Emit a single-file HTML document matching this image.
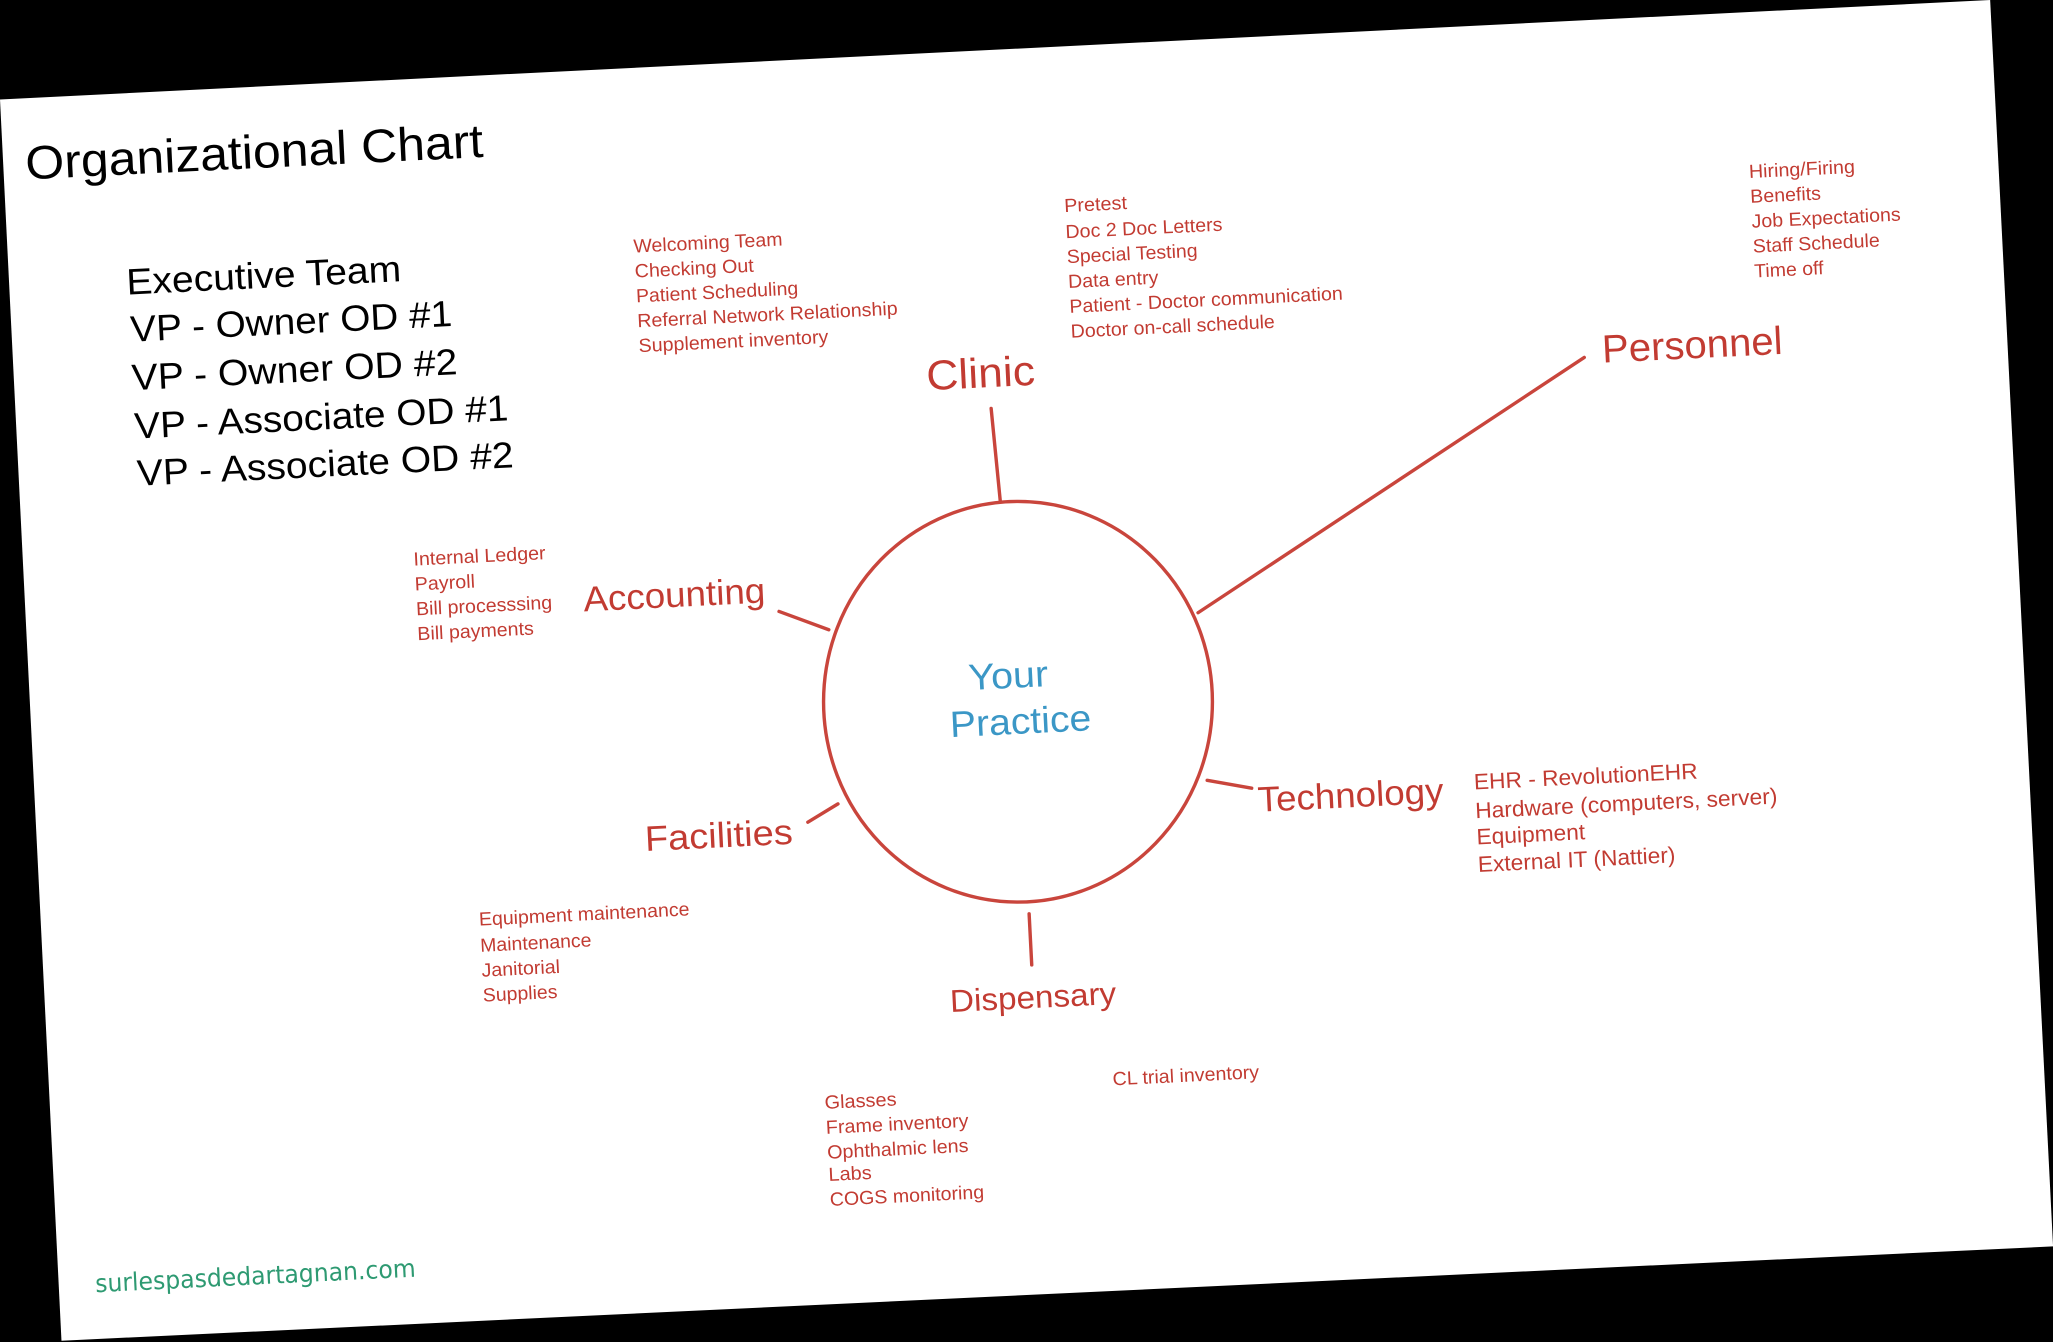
<!DOCTYPE html>
<html><head><meta charset="utf-8"><style>
html,body{margin:0;padding:0;background:#000;width:2053px;height:1342px;overflow:hidden}
svg{display:block}
text{font-family:"Liberation Sans",Arial,sans-serif}
.r{fill:#c23b32}
.k{fill:#000}
</style></head><body>
<svg width="2053" height="1342" viewBox="0 0 1568 1025" preserveAspectRatio="none" xmlns="http://www.w3.org/2000/svg">
<rect x="0" y="0" width="1568" height="1025" fill="#000"/>
<polygon points="0,76 1520,0 1568,951 1568,952 47,1024 0,1024" fill="#fff"/>
<polygon points="0,76 0,1025 47,1025" fill="#000"/>
<g stroke="#c9453c" stroke-width="2.6" fill="none" stroke-linecap="round">
<ellipse cx="777.5" cy="536" rx="148.5" ry="153"/>
<line x1="757" y1="312" x2="764" y2="383"/>
<line x1="915" y1="468" x2="1210" y2="273"/>
<line x1="595" y1="467" x2="633" y2="481"/>
<line x1="617" y1="628" x2="640" y2="614"/>
<line x1="922" y1="596" x2="956" y2="602"/>
<line x1="786" y1="698" x2="788" y2="737"/>
</g>
<g class="k">
<text x="20" y="137" font-size="36" textLength="350" lengthAdjust="spacingAndGlyphs" transform="rotate(-2.8 20 137)">Organizational Chart</text>
<text x="97" y="225" font-size="28" textLength="210" lengthAdjust="spacingAndGlyphs" transform="rotate(-2.8 97 225)">Executive Team</text>
<text x="100" y="261" font-size="28" textLength="246" lengthAdjust="spacingAndGlyphs" transform="rotate(-2.8 100 261)">VP - Owner OD #1</text>
<text x="101" y="298" font-size="28" textLength="249" lengthAdjust="spacingAndGlyphs" transform="rotate(-2.8 101 298)">VP - Owner OD #2</text>
<text x="103" y="335" font-size="28" textLength="286" lengthAdjust="spacingAndGlyphs" transform="rotate(-2.8 103 335)">VP - Associate OD #1</text>
<text x="105" y="371" font-size="28" textLength="288" lengthAdjust="spacingAndGlyphs" transform="rotate(-2.8 105 371)">VP - Associate OD #2</text>
</g>
<g class="r" font-size="14.5">
<text x="484" y="193" textLength="114" lengthAdjust="spacingAndGlyphs" transform="rotate(-2.8 484 193)">Welcoming Team</text>
<text x="485" y="212" textLength="91" lengthAdjust="spacingAndGlyphs" transform="rotate(-2.8 485 212)">Checking Out</text>
<text x="486" y="231" textLength="124" lengthAdjust="spacingAndGlyphs" transform="rotate(-2.8 486 231)">Patient Scheduling</text>
<text x="487" y="250" textLength="199" lengthAdjust="spacingAndGlyphs" transform="rotate(-2.8 487 250)">Referral Network Relationship</text>
<text x="488" y="269" textLength="145" lengthAdjust="spacingAndGlyphs" transform="rotate(-2.8 488 269)">Supplement inventory</text>

<text x="813" y="162" textLength="48" lengthAdjust="spacingAndGlyphs" transform="rotate(-2.8 813 162)">Pretest</text>
<text x="814" y="182" textLength="120" lengthAdjust="spacingAndGlyphs" transform="rotate(-2.8 814 182)">Doc 2 Doc Letters</text>
<text x="815" y="201" textLength="100" lengthAdjust="spacingAndGlyphs" transform="rotate(-2.8 815 201)">Special Testing</text>
<text x="816" y="220" textLength="69" lengthAdjust="spacingAndGlyphs" transform="rotate(-2.8 816 220)">Data entry</text>
<text x="817" y="239" textLength="209" lengthAdjust="spacingAndGlyphs" transform="rotate(-2.8 817 239)">Patient - Doctor communication</text>
<text x="818" y="258" textLength="156" lengthAdjust="spacingAndGlyphs" transform="rotate(-2.8 818 258)">Doctor on-call schedule</text>

<text x="1336" y="136" textLength="81" lengthAdjust="spacingAndGlyphs" transform="rotate(-2.8 1336 136)">Hiring/Firing</text>
<text x="1337" y="155" textLength="54" lengthAdjust="spacingAndGlyphs" transform="rotate(-2.8 1337 155)">Benefits</text>
<text x="1338" y="174" textLength="114" lengthAdjust="spacingAndGlyphs" transform="rotate(-2.8 1338 174)">Job Expectations</text>
<text x="1339" y="193" textLength="97" lengthAdjust="spacingAndGlyphs" transform="rotate(-2.8 1339 193)">Staff Schedule</text>
<text x="1340" y="212" textLength="53" lengthAdjust="spacingAndGlyphs" transform="rotate(-2.8 1340 212)">Time off</text>

<text x="316" y="432" textLength="101" lengthAdjust="spacingAndGlyphs" transform="rotate(-2.8 316 432)">Internal Ledger</text>
<text x="317" y="451" textLength="46" lengthAdjust="spacingAndGlyphs" transform="rotate(-2.8 317 451)">Payroll</text>
<text x="318" y="470" textLength="104" lengthAdjust="spacingAndGlyphs" transform="rotate(-2.8 318 470)">Bill processsing</text>
<text x="319" y="489" textLength="89" lengthAdjust="spacingAndGlyphs" transform="rotate(-2.8 319 489)">Bill payments</text>

<text x="366" y="707" textLength="161" lengthAdjust="spacingAndGlyphs" transform="rotate(-2.8 366 707)">Equipment maintenance</text>
<text x="367" y="727" textLength="85" lengthAdjust="spacingAndGlyphs" transform="rotate(-2.8 367 727)">Maintenance</text>
<text x="368" y="746" textLength="60" lengthAdjust="spacingAndGlyphs" transform="rotate(-2.8 368 746)">Janitorial</text>
<text x="369" y="765" textLength="57" lengthAdjust="spacingAndGlyphs" transform="rotate(-2.8 369 765)">Supplies</text>

<text x="850" y="829" textLength="112" lengthAdjust="spacingAndGlyphs" transform="rotate(-2.8 850 829)">CL trial inventory</text>

<text x="630" y="847" textLength="55" lengthAdjust="spacingAndGlyphs" transform="rotate(-2.8 630 847)">Glasses</text>
<text x="631" y="866" textLength="109" lengthAdjust="spacingAndGlyphs" transform="rotate(-2.8 631 866)">Frame inventory</text>
<text x="632" y="885" textLength="108" lengthAdjust="spacingAndGlyphs" transform="rotate(-2.8 632 885)">Ophthalmic lens</text>
<text x="633" y="902" textLength="33" lengthAdjust="spacingAndGlyphs" transform="rotate(-2.8 633 902)">Labs</text>
<text x="634" y="921" textLength="118" lengthAdjust="spacingAndGlyphs" transform="rotate(-2.8 634 921)">COGS monitoring</text>
</g>
<g class="r" font-size="17">
<text x="1126" y="603" textLength="171" lengthAdjust="spacingAndGlyphs" transform="rotate(-2.8 1126 603)">EHR - RevolutionEHR</text>
<text x="1127" y="625" textLength="231" lengthAdjust="spacingAndGlyphs" transform="rotate(-2.8 1127 625)">Hardware (computers, server)</text>
<text x="1128" y="645" textLength="83" lengthAdjust="spacingAndGlyphs" transform="rotate(-2.8 1128 645)">Equipment</text>
<text x="1129" y="666" textLength="151" lengthAdjust="spacingAndGlyphs" transform="rotate(-2.8 1129 666)">External IT (Nattier)</text>
</g>
<g class="r">
<text x="708" y="298" font-size="32" textLength="83" lengthAdjust="spacingAndGlyphs" transform="rotate(-2.8 708 298)">Clinic</text>
<text x="1224" y="277" font-size="30" textLength="138" lengthAdjust="spacingAndGlyphs" transform="rotate(-2.8 1224 277)">Personnel</text>
<text x="446" y="467" font-size="27" textLength="139" lengthAdjust="spacingAndGlyphs" transform="rotate(-2.8 446 467)">Accounting</text>
<text x="961" y="620" font-size="27" textLength="142" lengthAdjust="spacingAndGlyphs" transform="rotate(-2.8 961 620)">Technology</text>
<text x="493" y="650" font-size="27" textLength="113" lengthAdjust="spacingAndGlyphs" transform="rotate(-2.8 493 650)">Facilities</text>
<text x="726" y="773" font-size="24" textLength="127" lengthAdjust="spacingAndGlyphs" transform="rotate(-2.8 726 773)">Dispensary</text>
</g>
<g fill="#3b97c6" font-size="28">
<text x="740" y="527" textLength="61" lengthAdjust="spacingAndGlyphs" transform="rotate(-2.8 740 527)">Your</text>
<text x="726" y="563" textLength="108" lengthAdjust="spacingAndGlyphs" transform="rotate(-2.8 726 563)">Practice</text>
</g>
<text x="73" y="987" font-size="19" fill="#2e9a72" style="font-family:'DejaVu Sans',sans-serif" textLength="245" lengthAdjust="spacingAndGlyphs" transform="rotate(-2.8 73 987)">surlespasdedartagnan.com</text>
</svg>
</body></html>
